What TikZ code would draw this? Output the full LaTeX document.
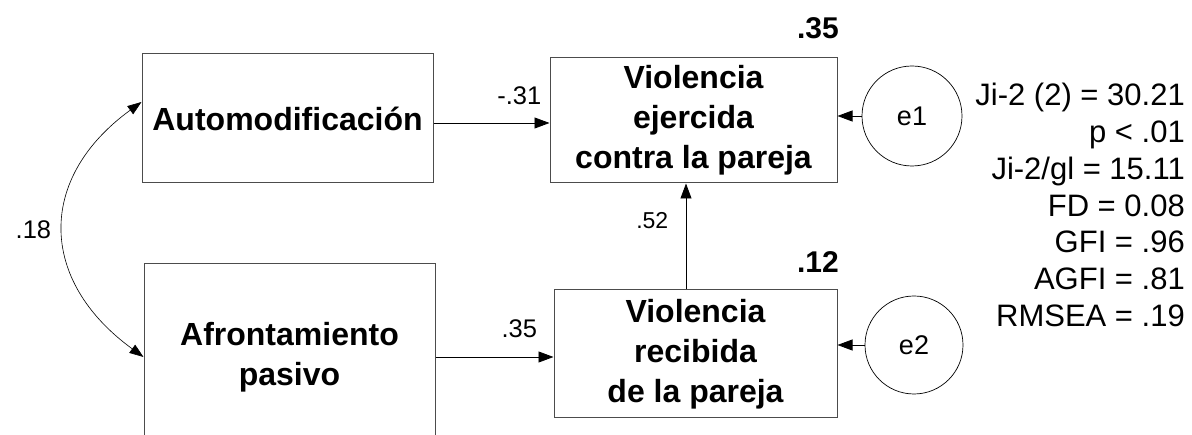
\documentclass[tikz,border=0pt]{standalone}
\usepackage{fontspec}
\setmainfont{Liberation Sans}
\usetikzlibrary{arrows.meta}
\usetikzlibrary{positioning}

\tikzset{
	var/.style={draw=black!70, line width=1pt, align=center, inner sep=0pt,
		font=\fontsize{32}{40}\selectfont\bfseries},
	err/.style={circle, draw, line width=0.7pt, inner sep=0pt,
		font=\fontsize{27}{30}\selectfont},
	coef/.style={font=\fontsize{25.5}{30}\selectfont},
	rsq/.style={font=\fontsize{30}{36}\selectfont\bfseries},
	stats/.style={align=right, inner sep=0pt, font=\fontsize{31}{36.7}\selectfont},
	link/.style={-{Triangle[length=15pt,width=11pt]}, line width=0.8pt},
	corr/.style={{Triangle[length=14pt,width=10pt]}-{Triangle[length=14pt,width=10pt]}, line width=0.6pt}
}

\begin{document}
\begin{tikzpicture}[x=1pt,y=1pt]
		\clip (0,0) rectangle (1192,435);
		
		\node[var, minimum width=291pt, minimum height=129pt] (AM) at (287.5,316.5) {Automodificación};
		\node[var, minimum width=291pt, minimum height=186pt] (AP) at (289.5,78) {Afrontamiento\\pasivo};
		\node[var, minimum width=287pt, minimum height=125pt] (VE) at (693.5,314.5) {Violencia\\ejercida\\contra la pareja};
		\node[var, minimum width=283pt, minimum height=128pt] (VR) at (695.5,81) {Violencia\\recibida\\de la pareja};
		\node[err, minimum size=100pt] (e1) at (912,319) {e1};
		\node[err, minimum size=98pt] (e2) at (914,90) {e2};
		\node[rsq] (R1) at (818,407) {.35};
		\node[rsq] (R2) at (818,173) {.12};
		\node[stats, anchor=east] (fitstats) at (1185,230) {Ji-2 (2) = 30.21\\p < .01\\Ji-2/gl = 15.11\\FD = 0.08\\GFI = .96\\AGFI = .81\\RMSEA = .19};
		
		\draw[link] ([yshift=-4.5pt]AM.east) -- ([yshift=-4.5pt]AM.east -| VE.west) node[coef, pos=.74, above=15pt] {-.31};
		\draw[link] (AP.east) -- (AP.east -| VR.west) node[coef, pos=.71, above=16pt] {.35};
		\draw[link] ([xshift=-9.5pt]VR.north) -- ([xshift=-9.5pt]VR.north |- VE.south) node[coef, font=\fontsize{23}{28}\selectfont, pos=.65, left=14pt] {.52};
		\draw[link] (e1.west) -- (e1.west -| VE.east);
		\draw[link] (e2.west) -- (e2.west -| VR.east);
		\draw[corr] ([yshift=16.5pt]AM.west) to[out=216, in=144, looseness=1.3] node[coef, pos=.5, left=9pt] {.18} (AP.west);
\end{tikzpicture}
\end{document}
